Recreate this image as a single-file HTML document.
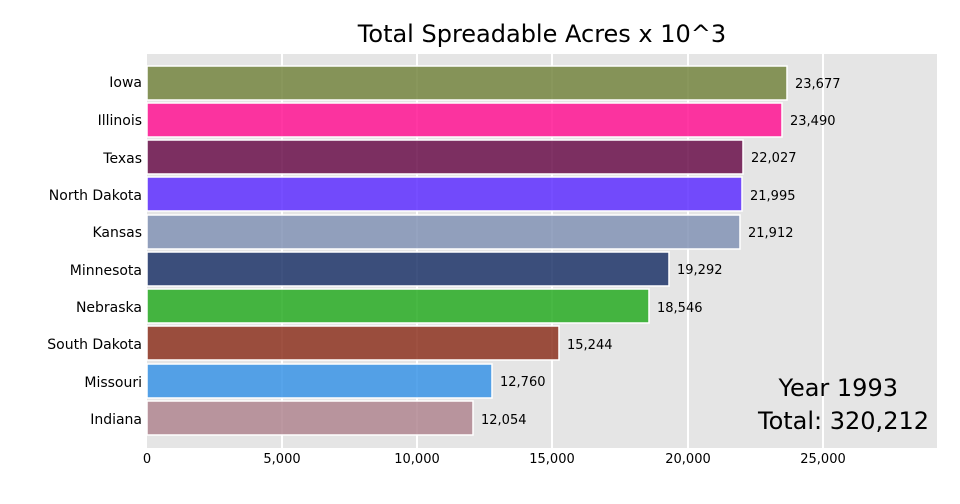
<!DOCTYPE html>
<html><head><meta charset="utf-8"><style>body{margin:0;background:#fff}svg{display:block;font-family:"DejaVu Sans",sans-serif}</style></head>
<body>
<svg width="960" height="504" viewBox="0 0 960 504">
<rect x="147" y="54" width="790" height="394" fill="#e5e5e5"/>
<g stroke="#fff" stroke-width="2">
<line x1="282" y1="54" x2="282" y2="448"/><line x1="417" y1="54" x2="417" y2="448"/><line x1="552" y1="54" x2="552" y2="448"/><line x1="688" y1="54" x2="688" y2="448"/><line x1="823" y1="54" x2="823" y2="448"/>
</g>
<text x="542" y="42" font-size="24" text-anchor="middle" fill="#000">Total Spreadable Acres x 10^3</text>
<g stroke="#fff" stroke-width="1.5" fill-opacity="0.85">
<rect x="147" y="66" width="640" height="34" fill="#748540"/>
<rect x="147" y="103" width="635" height="34" fill="#ff1493"/>
<rect x="147" y="140" width="596" height="34" fill="#6a0f4a"/>
<rect x="147" y="177" width="595" height="34" fill="#5e2fff"/>
<rect x="147" y="215" width="593" height="34" fill="#8293b5"/>
<rect x="147" y="252" width="522" height="34" fill="#1d3468"/>
<rect x="147" y="289" width="502" height="34" fill="#28ac23"/>
<rect x="147" y="326" width="412" height="34" fill="#8d3220"/>
<rect x="147" y="364" width="345" height="34" fill="#3994e6"/>
<rect x="147" y="401" width="326" height="34" fill="#b08690"/>
</g>
<g font-size="14" fill="#000" text-anchor="end">
<text x="142" y="87">Iowa</text><text x="142" y="125">Illinois</text><text x="142" y="163">Texas</text><text x="142" y="200">North Dakota</text><text x="142" y="237">Kansas</text><text x="142" y="275">Minnesota</text><text x="142" y="312">Nebraska</text><text x="142" y="349">South Dakota</text><text x="142" y="387">Missouri</text><text x="142" y="424">Indiana</text>
</g>
<g font-size="13" fill="#000">
<text x="795" y="88">23,677</text><text x="790" y="125">23,490</text><text x="751" y="162">22,027</text><text x="750" y="200">21,995</text><text x="748" y="237">21,912</text><text x="677" y="274">19,292</text><text x="657" y="312">18,546</text><text x="567" y="349">15,244</text><text x="500" y="386">12,760</text><text x="481" y="424">12,054</text>
</g>
<g font-size="13" fill="#000" text-anchor="middle">
<text x="147" y="463">0</text><text x="282" y="463">5,000</text><text x="417" y="463">10,000</text><text x="552" y="463">15,000</text><text x="688" y="463">20,000</text><text x="823" y="463">25,000</text>
</g>
<g font-size="24" fill="#000" text-anchor="end">
<text x="898" y="396">Year 1993</text>
<text x="929" y="429">Total: 320,212</text>
</g>
</svg>
</body></html>
